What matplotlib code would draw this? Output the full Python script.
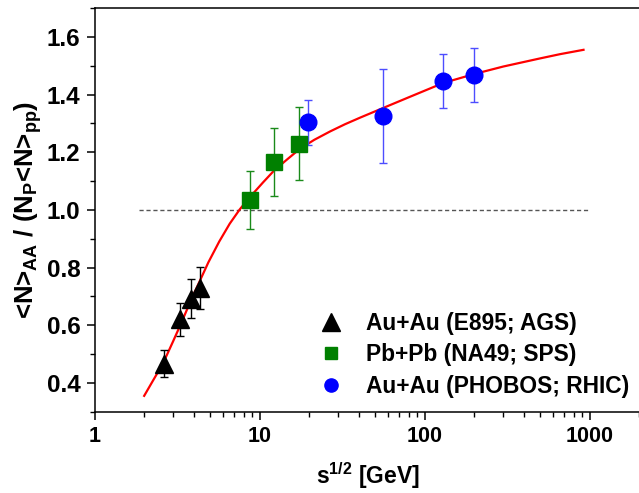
import numpy as np
import matplotlib
matplotlib.use('Agg')
import matplotlib.pyplot as plt
from matplotlib.lines import Line2D
from matplotlib.ticker import MultipleLocator, LogLocator, NullFormatter, FixedLocator, FixedFormatter

plt.rcParams['font.family'] = ['Liberation Sans', 'DejaVu Sans']
plt.rcParams['font.weight'] = 'bold'
plt.rcParams['mathtext.fontset'] = 'custom'
plt.rcParams['mathtext.rm'] = 'Liberation Sans:bold'
plt.rcParams['mathtext.bf'] = 'Liberation Sans:bold'
plt.rcParams['mathtext.it'] = 'Liberation Sans:bold'
plt.rcParams['mathtext.default'] = 'bf'

# E895 (AGS) Au+Au
ags_x = [2.65, 3.3, 3.85, 4.35]
ags_y = [0.467, 0.620, 0.692, 0.729]
ags_err = [0.047, 0.058, 0.068, 0.073]

# NA49 (SPS) Pb+Pb
sps_x = [8.7, 12.3, 17.3]
sps_y = [1.035, 1.166, 1.230]
sps_err = [0.100, 0.118, 0.125]

# PHOBOS (RHIC) Au+Au
rhic_x = [19.6, 56.0, 130.0, 200.0]
rhic_y = [1.304, 1.326, 1.447, 1.468]
rhic_err = [0.078, 0.163, 0.094, 0.094]

# fit curve
fit_x = [2.0, 2.3, 2.6, 3.0, 3.3, 3.9, 4.9, 5.7, 6.6, 7.6, 8.8, 10.5, 12.2, 14.5,
         17.6, 21.5, 26.8, 33.0, 40.8, 56.0, 80.0, 100.0, 130.0, 200.0, 300.0,
         500.0, 664.0, 920.0]
fit_y = [0.355, 0.415, 0.467, 0.545, 0.598, 0.695, 0.818, 0.890, 0.952, 1.002,
         1.046, 1.095, 1.135, 1.172, 1.212, 1.243, 1.272, 1.297, 1.320, 1.353,
         1.390, 1.413, 1.440, 1.471, 1.497, 1.525, 1.540, 1.555]

ref_x = [1.85, 1000.0]
ref_y = [1.0, 1.0]

labels = ['Au+Au (E895; AGS)', 'Pb+Pb (NA49; SPS)', 'Au+Au (PHOBOS; RHIC)']

fig = plt.figure(figsize=(6.39, 4.93), dpi=100)
ax = fig.add_axes([94.5 / 639, 81.3 / 493, 546.5 / 639, 403.7 / 493])

ax.plot(ref_x, ref_y, color='#555555', lw=1.0, ls=(0, (3, 2)))
ax.plot(fit_x, fit_y, color='#ff0000', lw=1.6, zorder=2)

ax.errorbar(ags_x, ags_y, yerr=ags_err, fmt='^', color='black', ms=13,
            ecolor='black', elinewidth=1.0, capsize=3, capthick=1.0, zorder=3)
ax.errorbar(sps_x, sps_y, yerr=sps_err, fmt='s', color='#008000', ms=11,
            ecolor='#1a8a1a', elinewidth=1.0, capsize=3, capthick=1.0, zorder=3)
ax.errorbar(rhic_x, rhic_y, yerr=rhic_err, fmt='o', color='#0000ff', ms=12,
            ecolor='#4d4dff', elinewidth=1.0, capsize=3, capthick=1.0, zorder=3)

ax.set_xscale('log')
ax.set_xlim(1, 10 ** (546.5 / 165))
ax.set_ylim(0.3, 1.7)

ax.yaxis.set_major_locator(FixedLocator([0.4, 0.6, 0.8, 1.0, 1.2, 1.4, 1.6]))
ax.yaxis.set_major_formatter(FixedFormatter(['0.4', '0.6', '0.8', '1.0', '1.2', '1.4', '1.6']))
ax.yaxis.set_minor_locator(MultipleLocator(0.1))
ax.xaxis.set_major_locator(FixedLocator([1, 10, 100, 1000]))
ax.xaxis.set_major_formatter(FixedFormatter(['1', '10', '100', '1000']))
ax.xaxis.set_minor_locator(LogLocator(base=10, subs=np.arange(2, 10)))
ax.xaxis.set_minor_formatter(NullFormatter())

ax.tick_params(which='major', direction='out', length=6, width=1.1, labelsize=15.5, pad=4)
ax.tick_params(which='minor', direction='out', length=3.5, width=1.0)
ax.tick_params(axis='y', which='major', labelsize=17.5)
ax.spines['right'].set_visible(False)
for s in ['left', 'bottom', 'top']:
    ax.spines[s].set_linewidth(1.1)

ax.set_xlabel(r'$s^{1/2}$ [GeV]', fontsize=16.5, fontweight='bold', labelpad=10)
ax.set_ylabel('<N>$_{AA}$ / (N$_{P}$<N>$_{pp}$)', fontsize=18.5,
              fontweight='bold', labelpad=2)

handles = [
    Line2D([], [], ls='none', marker='^', ms=12.5, color='black'),
    Line2D([], [], ls='none', marker='s', ms=8.5, color='#008000'),
    Line2D([], [], ls='none', marker='o', ms=9.5, color='#0000ff'),
]
ax.legend(handles, labels, loc='lower left', bbox_to_anchor=(301 / 639, 79 / 493),
          bbox_transform=fig.transFigure, frameon=False, fontsize=16.4,
          handletextpad=0.95, labelspacing=0.38, handlelength=1.2,
          borderpad=0.2)

fig.savefig('out.png', dpi=100)
